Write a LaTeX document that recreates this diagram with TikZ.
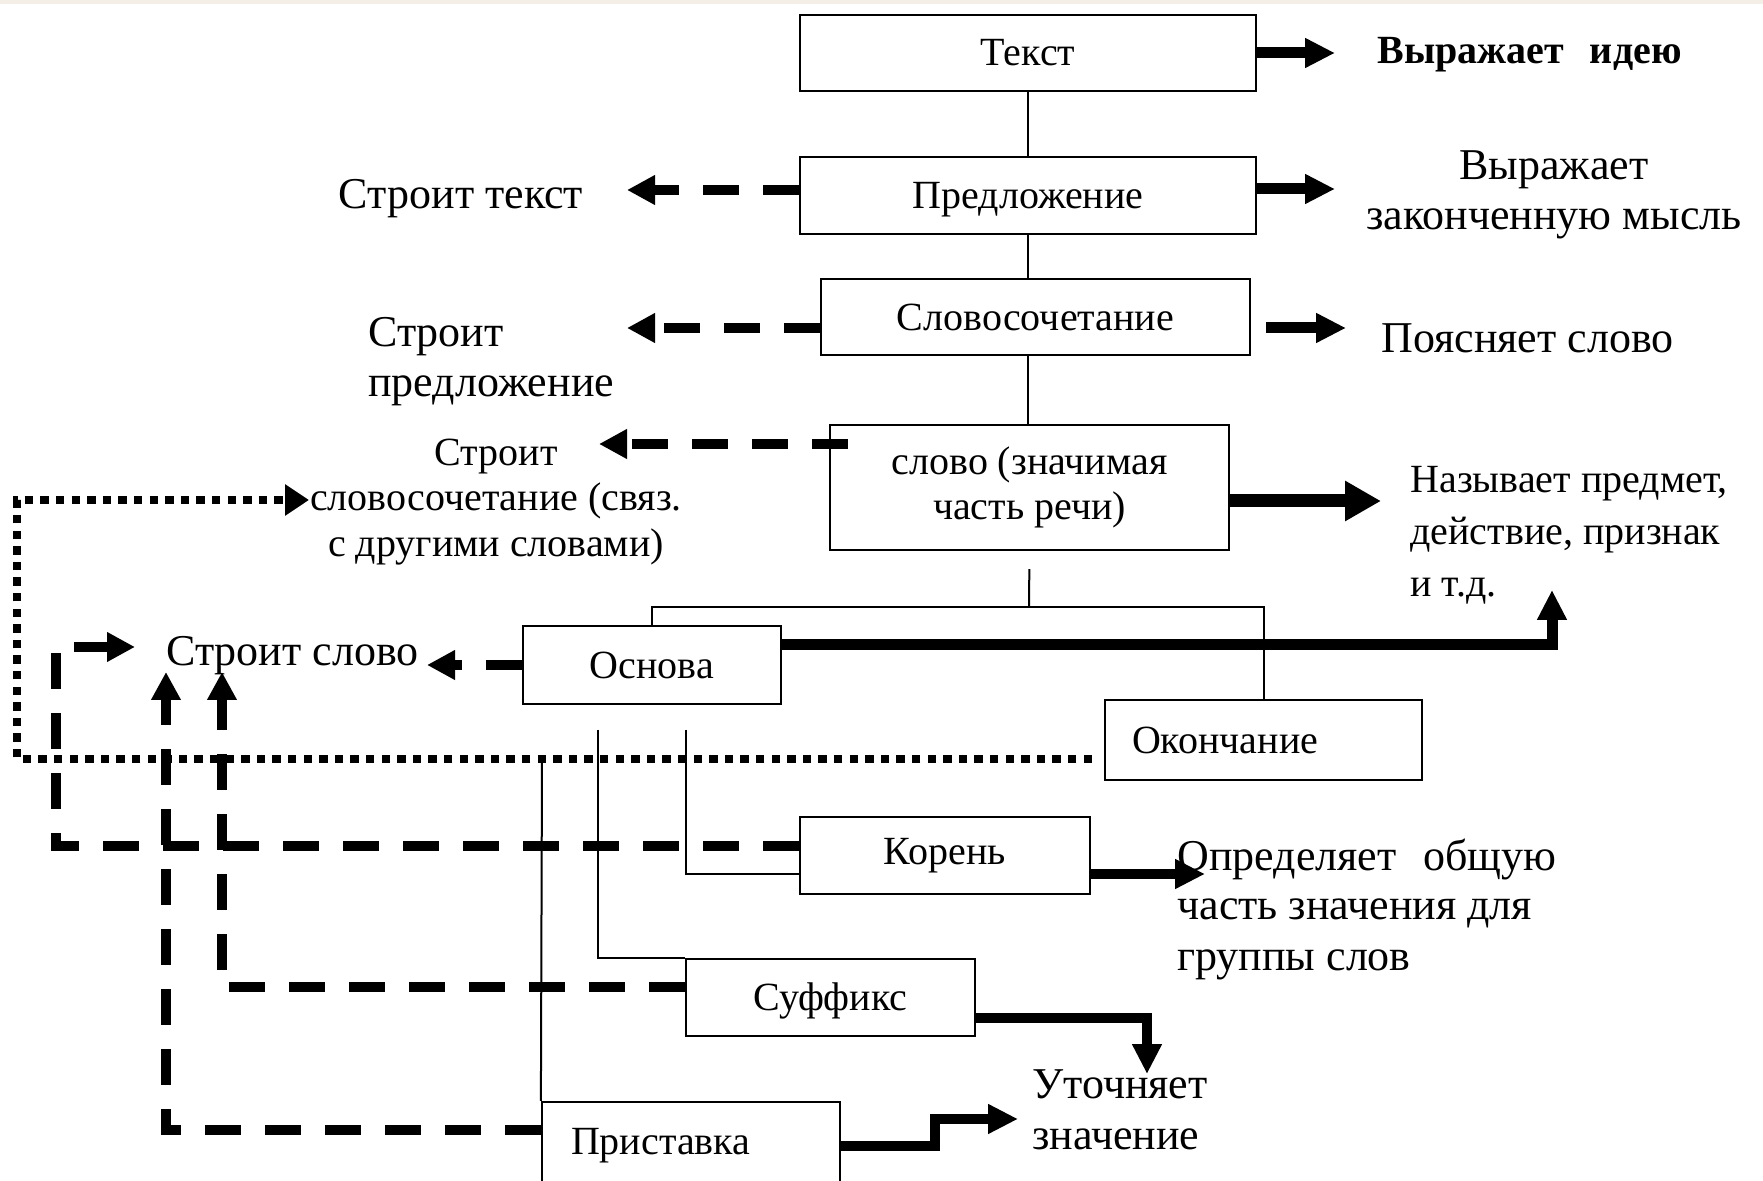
\documentclass[tikz,border=0pt]{standalone}
\usepackage{fontspec}
\setmainfont{Liberation Serif}
\usetikzlibrary{arrows.meta,calc}
\definecolor{stripcol}{HTML}{F3EEE6}
\begin{document}
\begin{tikzpicture}[x=0.5pt,y=-0.5pt,
  box/.style={draw, line width=1.1pt, inner sep=0pt, font=\fontsize{20pt}{22.5pt}\selectfont},
  lbl/.style={inner sep=0pt, font=\fontsize{22pt}{25pt}\selectfont},
  conn/.style={line width=1pt},
  thickarr/.style={line width=5.5pt, -{Triangle[length=15pt,width=14pt]}},
  dasharr/.style={line width=5.3pt, dash pattern=on 18pt off 12pt, -{Triangle[length=14pt,width=14pt]}},
  dotarr/.style={line width=4.2pt, dash pattern=on 4.2pt off 3.6pt, -{Triangle[length=12pt,width=15pt]}}]
\useasboundingbox (0,0) rectangle (1763,1181);
\clip (0,0) rectangle (1763,1181);
\fill[stripcol] (0,0) rectangle (1763,4);

% boxes
\node[box, minimum width=228pt, minimum height=38pt] (tekst) at (1028,53) {Текст};
\node[box, minimum width=228pt, minimum height=38.5pt, text height=13.3pt, text depth=0pt] (pred) at (1028,195.5) {Предложение};
\node[box, minimum width=214.5pt, minimum height=38pt] (slsoch) at (1035.5,317) {Словосочетание};
\node[box, minimum width=199.5pt, minimum height=62.5pt, align=center] (slovo) at (1029.5,487.5) {слово (значимая\\часть речи)};
\node[box, minimum width=129pt, minimum height=39pt] (osnova) at (652,665) {Основа};
\node[box, inner xsep=13.5pt, text width=131.5pt, minimum height=40pt, align=left] (okonch) at (1263.5,740) {Окончание};
\node[box, minimum width=145pt, minimum height=38.5pt] (koren) at (945,855.5) {Корень};
\node[box, minimum width=144.5pt, minimum height=38.5pt, text height=13.3pt, text depth=0pt] (suff) at (830.5,997.5) {Суффикс};
\node[box, inner xsep=14.5pt, text width=120pt, minimum height=44pt, align=left] (prist) at (691,1146) {Приставка};

% labels
\node[lbl, font=\fontsize{20pt}{22pt}\selectfont\bfseries, anchor=west] (idea) at (1377,55) {Выражает\hspace{8pt} идею};
\node[lbl, align=center] (vyr) at (1554,195) {Выражает\\законченную мысль};
\node[lbl] (stext) at (461,199) {Строит текст};
\node[lbl, anchor=west] (poyas) at (1381,338) {Поясняет слово};
\node[lbl, anchor=west, align=left] (spred) at (368,362) {Строит\\предложение};
\node[lbl, font=\fontsize{20pt}{22.75pt}\selectfont, align=center] (ssoch) at (496,502) {Строит\\словосочетание (связ.\\с другими словами)};
\node[lbl, font=\fontsize{20pt}{26pt}\selectfont, anchor=west, align=left] (nazyv) at (1410,535) {Называет предмет,\\действие, признак\\и т.д.};
\node[lbl, anchor=west] (sslovo) at (166,656) {Строит слово};
\node[lbl, anchor=west, align=left] (opred) at (1177,909) {Определяет\hspace{8pt} общую\\часть значения для\\группы слов};
\node[lbl, anchor=west, align=left, font=\fontsize{22pt}{25.5pt}\selectfont] (utoch) at (1032,1110) {Уточняет\\значение};

% thin hierarchy lines
\draw[conn] (tekst.south) -- (pred.north);
\draw[conn] (pred.south) -- (pred.south |- slsoch.north);
\draw[conn] (slsoch.south -| pred.south) -- (slovo.north -| pred.south);
\coordinate (tj) at (1029,607);
\draw[conn, shorten <=9pt] (slovo.south) -- (tj);
\draw[conn] (osnova.north) |- (tj) -| (okonch.north);
\coordinate (l1) at (542,757);
\coordinate (l2) at (598,730);
\coordinate (l3) at (686,730);
\draw[conn] (l1) -- (prist.north west);
\draw[conn] (l2) |- (suff.north west);
\draw[conn] (l3) |- ([yshift=-9.25pt]koren.west);

% thick arrows
\coordinate (a1) at (1335,53);
\draw[thickarr] (tekst.east) -- (a1);
\coordinate (a2) at (1335,189);
\draw[thickarr] (pred.east |- a2) -- (a2);
\coordinate (a3) at (1346,328);
\draw[thickarr, shorten <=7.5pt] (slsoch.east |- a3) -- (a3);
\coordinate (a4) at (1381,501);
\draw[thickarr, line width=6.5pt, -{Triangle[length=18pt,width=19pt]}] (slovo.east |- a4) -- (a4);
\coordinate (a5) at (1552,590);
\draw[thickarr] ([yshift=10pt]osnova.east) -| (a5);
\coordinate (a6) at (1205,874);
\draw[thickarr, line width=5pt] (koren.east |- a6) -- (a6);
\coordinate (a7) at (1147,1074);
\draw[thickarr, line width=5pt] ([yshift=-10.25pt]suff.east) -| (a7);
\coordinate (a8m) at (935,1119);
\coordinate (a8) at (1018,1119);
\draw[thickarr, line width=5pt] (prist.east) -| (a8m) -- (a8);

% dashed arrows
\coordinate (d1) at (627,190);
\draw[dasharr] (pred.west |- d1) -- (d1);
\coordinate (d2) at (627,328);
\draw[dasharr] (slsoch.west |- d2) -- (d2);
\coordinate (d3) at (599,444);
\draw[dasharr] ($(slovo.west |- d3)+(19,0)$) -- (d3);
\coordinate (d4) at (427,665);
\draw[dasharr] (osnova.west) -- (d4);
\coordinate (d5c) at (56,647);
\coordinate (d5) at (135,647);
\draw[dasharr] ([yshift=4.75pt]koren.west) -| (d5c) -- (d5);
\coordinate (d6) at (222,672);
\draw[dasharr] ([yshift=5.25pt]suff.west) -| (d6);
\coordinate (d7) at (166,672);
\draw[dasharr] ([yshift=8pt]prist.west) -| (d7);

% dotted arrow
\coordinate (e1) at (17,500);
\coordinate (e2) at (309,500);
\draw[dotarr, shorten <=6pt] ([yshift=-9.5pt]okonch.west) -| (e1) -- (e2);
\end{tikzpicture}
\end{document}
